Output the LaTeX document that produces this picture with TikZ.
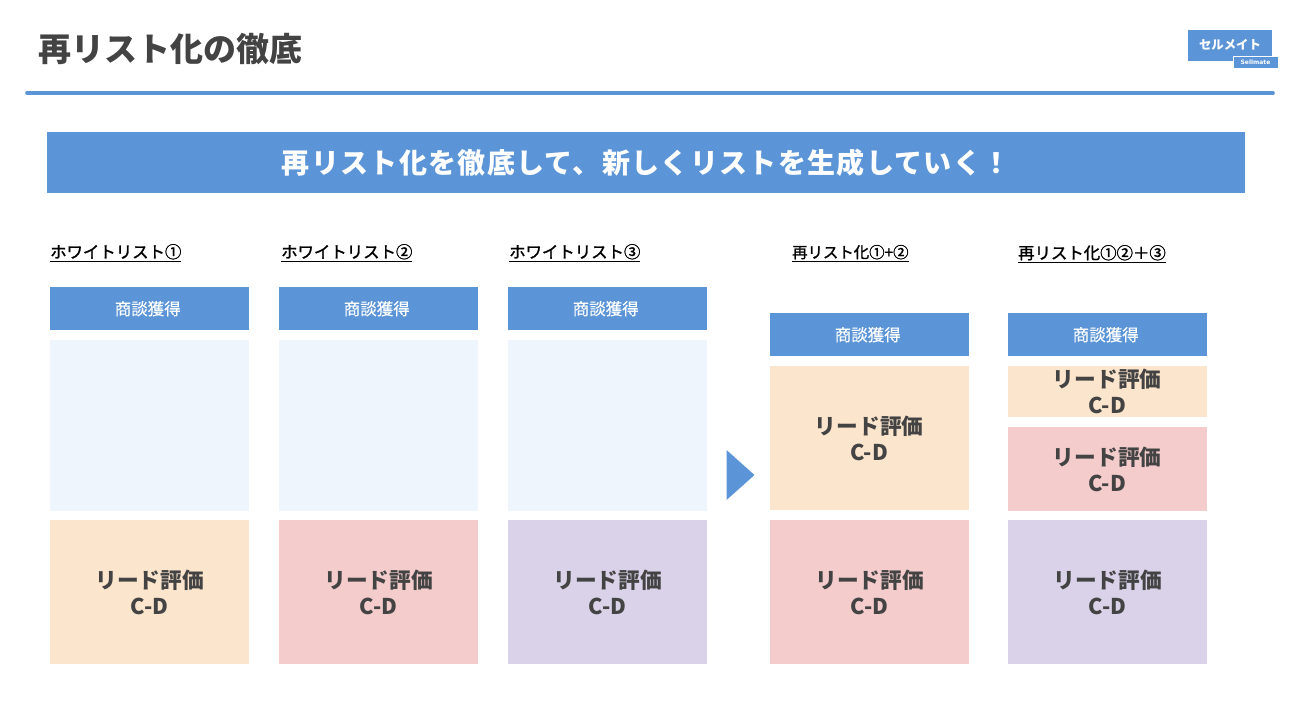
\documentclass[tikz,border=0pt]{standalone}
\usepackage{fontspec}
\usepackage{xcolor}
\setmainfont{Noto Sans CJK JP}
\setsansfont{DejaVu Sans}
\usetikzlibrary{positioning}
\definecolor{smblue}{HTML}{5B95D7}
\definecolor{smdark}{HTML}{434343}
\definecolor{smpale}{HTML}{EFF5FC}
\definecolor{smpeach}{HTML}{FCE5CD}
\definecolor{smpink}{HTML}{F4CCCC}
\definecolor{smlilac}{HTML}{D9D2E9}

\begin{document}
\begin{tikzpicture}[
    x=1pt, y=-1pt,
    nosep/.style={inner sep=0},
    cell/.style={nosep, anchor=north west, minimum width=199pt, align=center},
    headcell/.style={cell, fill=smblue, minimum height=43pt, text=white, font=\fontsize{16.5}{20}\selectfont\addfontfeature{FakeBold=0.3}},
    blankcell/.style={cell, fill=smpale, minimum height=171pt},
    leadcell/.style={cell, text=smdark, font=\fontsize{21.7}{26}\selectfont\bfseries},
    listtitle/.style={nosep, anchor=base west, text=black, font=\fontsize{16.4}{20}\selectfont\addfontfeature{FakeBold=1.5}}]
\useasboundingbox (0,0) rectangle (1302,728);

% page header
\node[nosep, anchor=west, text=smdark, font=\fontsize{33}{40}\selectfont\bfseries] (pagetitle) at (38,49) {再リスト化の徹底};
\draw[smblue, line width=3.6pt, line cap=round] (27,93) -- (1273,93);
\node[nosep, anchor=north west, fill=smblue, minimum width=84pt, minimum height=31pt] (logomain) at (1188,30) {};
\node[nosep, text=white, font=\fontsize{12.4}{14}\selectfont\bfseries] (logotext) at (1230,45) {セルメイト};
\node[nosep, anchor=north west, fill=smblue, draw=white, line width=0.7pt, minimum width=45pt, minimum height=12pt] (logosub) at (1233,56) {};
\node[nosep, text=white, font=\sffamily\fontsize{6}{7}\selectfont\bfseries] (logosubtext) at (1255.5,62) {Sellmate};

% banner
\node[nosep, anchor=north west, fill=smblue, minimum width=1198pt, minimum height=61pt, text=white, font=\fontsize{28}{32}\selectfont\bfseries] (banner) at (47,132) {\addfontfeature{LetterSpace=4.7}再リスト化を徹底して、新しくリストを生成していく！};

% list titles
\node[listtitle] (titleA) at (50,258) {\underline{ホワイトリスト①}};
\node[listtitle] (titleB) at (281,258) {\underline{ホワイトリスト②}};
\node[listtitle] (titleC) at (509,258) {\underline{ホワイトリスト③}};
\node[listtitle, font=\fontsize{15.4}{20}\selectfont\addfontfeature{FakeBold=1.5}] (titleD) at (792,258) {\underline{再リスト化①+②}};
\node[listtitle] (titleE) at (1018,259) {\underline{再リスト化①②＋③}};

% white lists
\node[headcell] (headA) at (50,287) {商談獲得\hspace*{4pt}};
\node[blankcell] (blankA) at (50,340) {};
\node[leadcell, fill=smpeach, minimum height=144pt] (leadA) at (50,520) {リード評価\\C-D};

\node[headcell] (headB) at (279,287) {商談獲得\hspace*{4pt}};
\node[blankcell] (blankB) at (279,340) {};
\node[leadcell, fill=smpink, minimum height=144pt] (leadB) at (279,520) {リード評価\\C-D};

\node[headcell] (headC) at (508,287) {商談獲得\hspace*{4pt}};
\node[blankcell] (blankC) at (508,340) {};
\node[leadcell, fill=smlilac, minimum height=144pt] (leadC) at (508,520) {リード評価\\C-D};

\fill[smblue] (726.5,450) -- (754.5,475) -- (726.5,500) -- cycle;

% relisted
\node[headcell] (headD) at (770,313) {商談獲得\hspace*{4pt}};
\node[leadcell, fill=smpeach, minimum height=144pt] (leadD) at (769.5,366) {リード評価\\C-D};
\node[leadcell, fill=smpink, minimum height=144pt] (leadDD) at (770,520) {リード評価\\C-D};

\node[headcell] (headE) at (1008,313) {商談獲得\hspace*{4pt}};
\node[leadcell, fill=smpeach, minimum height=51pt] (leadE) at (1007.5,366) {リード評価\\C-D};
\node[leadcell, fill=smpink, minimum height=84.5pt] (leadEE) at (1007.5,426.5) {リード評価\\C-D};
\node[leadcell, fill=smlilac, minimum height=144pt] (leadEEE) at (1008,520) {リード評価\\C-D};

\end{tikzpicture}
\end{document}
